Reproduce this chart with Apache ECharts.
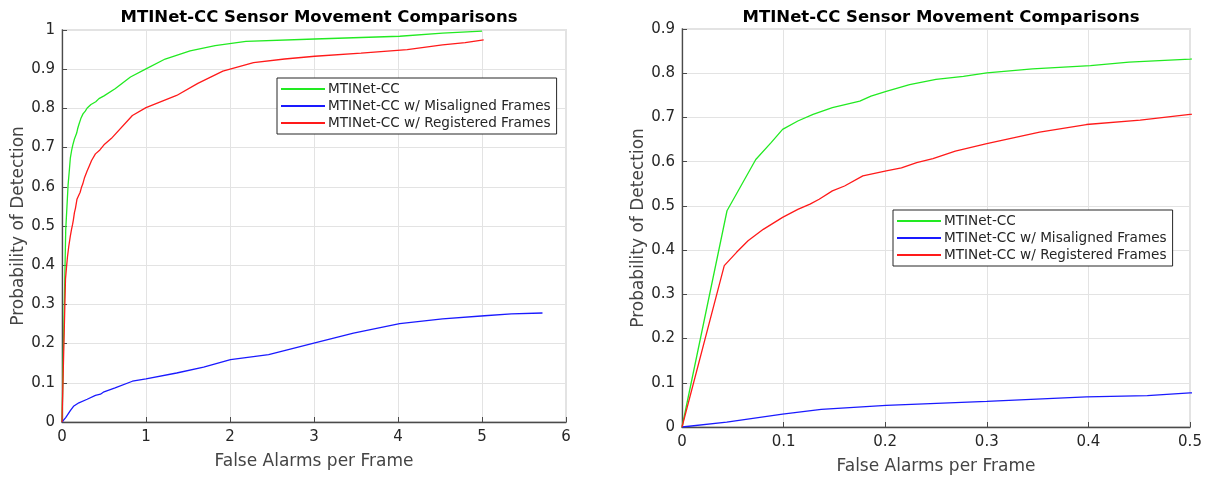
<!DOCTYPE html>
<html>
<head>
<meta charset="utf-8">
<title>MTINet-CC Sensor Movement Comparisons</title>
<script src="https://cdn.jsdelivr.net/npm/echarts@6/dist/echarts.min.js"></script>
<style>
  html, body { margin: 0; padding: 0; background: #ffffff; }
  #chart { width: 1213px; height: 480px; }
</style>
</head>
<body>
<div id="chart"></div>
<script>
// Series names
const nameBase = 'MTINet-CC';
const nameMisaligned = 'MTINet-CC w/ Misaligned Frames';
const nameRegistered = 'MTINet-CC w/ Registered Frames';

// MTINet-CC: false alarms per frame vs probability of detection
const greenFa = [0, 0.0443, 0.0726, 0.0877, 0.099, 0.114, 0.129, 0.148, 0.175, 0.186, 0.201, 0.224, 0.25, 0.277, 0.30, 0.345, 0.402, 0.44, 0.5, 0.632, 0.815, 1.0, 1.228, 1.525, 1.823, 2.19, 3.01, 4.02, 4.53, 5.0];
const greenPd = [0, 0.489, 0.605, 0.643, 0.673, 0.692, 0.707, 0.722, 0.737, 0.748, 0.759, 0.774, 0.786, 0.793, 0.801, 0.810, 0.817, 0.825, 0.832, 0.850, 0.880, 0.901, 0.926, 0.947, 0.960, 0.971, 0.977, 0.984, 0.992, 0.997];

// MTINet-CC w/ Misaligned Frames
const blueFa = [0, 0.044, 0.099, 0.137, 0.201, 0.300, 0.398, 0.458, 0.5, 0.632, 0.838, 1.0, 1.365, 1.686, 2.006, 2.46, 3.01, 3.47, 4.02, 4.53, 5.03, 5.35, 5.72];
const bluePd = [0, 0.011, 0.029, 0.040, 0.049, 0.058, 0.068, 0.071, 0.077, 0.087, 0.104, 0.110, 0.125, 0.140, 0.159, 0.172, 0.202, 0.227, 0.251, 0.263, 0.271, 0.276, 0.278];

// MTINet-CC w/ Registered Frames
const redFa = [0, 0.0416, 0.0537, 0.065, 0.080, 0.099, 0.114, 0.126, 0.135, 0.148, 0.160, 0.178, 0.201, 0.216, 0.231, 0.247, 0.269, 0.300, 0.326, 0.352, 0.398, 0.451, 0.5, 0.586, 0.838, 1.0, 1.365, 1.617, 1.915, 2.28, 2.65, 3.01, 3.56, 4.11, 4.53, 4.80, 5.02];
const redPd = [0, 0.365, 0.395, 0.421, 0.447, 0.474, 0.492, 0.504, 0.515, 0.534, 0.545, 0.568, 0.579, 0.586, 0.598, 0.607, 0.624, 0.641, 0.654, 0.667, 0.684, 0.694, 0.707, 0.723, 0.782, 0.802, 0.833, 0.864, 0.895, 0.917, 0.926, 0.933, 0.941, 0.950, 0.962, 0.968, 0.975];

// Axis ranges for the full view and the zoomed view
const fullX = { min: 0, max: 6, interval: 1 };
const fullY = { min: 0, max: 1, interval: 0.1 };
const zoomX = { min: 0, max: 0.5, interval: 0.1 };
const zoomY = { min: 0, max: 0.9, interval: 0.1 };

const titleText = 'MTINet-CC Sensor Movement Comparisons';
const xName = 'False Alarms per Frame';
const yName = 'Probability of Detection';

const zip = (xs, ys) => xs.map((x, i) => [x, ys[i]]);

const FONT = 'DejaVu Sans';
const TEXT = '#262626';
const AXIS = '#4a4a4a';
const GRID = '#e3e3e3';

function xAxisFor(range, gridIndex) {
  return {
    type: 'value', gridIndex,
    min: range.min, max: range.max, interval: range.interval,
    name: xName, nameLocation: 'middle', nameGap: 31,
    nameTextStyle: { fontFamily: FONT, fontSize: 17, color: '#444' },
    axisLine: { show: true, lineStyle: { color: AXIS, width: 1.3 } },
    axisTick: { show: true, inside: true, length: 5, lineStyle: { color: AXIS } },
    axisLabel: { fontFamily: FONT, fontSize: 15, color: TEXT, margin: 8 },
    splitLine: { show: true, lineStyle: { color: GRID, width: 1 } }
  };
}

function yAxisFor(range, gridIndex, gap) {
  return {
    type: 'value', gridIndex,
    min: range.min, max: range.max, interval: range.interval,
    name: yName, nameLocation: 'middle', nameGap: gap,
    nameTextStyle: { fontFamily: FONT, fontSize: 17, color: '#444' },
    axisLine: { show: true, lineStyle: { color: AXIS, width: 1.3 } },
    axisTick: { show: true, inside: true, length: 5, lineStyle: { color: AXIS } },
    axisLabel: { fontFamily: FONT, fontSize: 15, color: TEXT, margin: 7 },
    splitLine: { show: true, lineStyle: { color: GRID, width: 1 } }
  };
}

function legendAt(left, top) {
  return {
    orient: 'vertical', left, top,
    data: [nameBase, nameMisaligned, nameRegistered],
    icon: 'rect', itemWidth: 44, itemHeight: 2, itemGap: 3,
    padding: [4, 6, 4, 4],
    borderColor: '#262626', borderWidth: 1, backgroundColor: '#ffffff',
    textStyle: { fontFamily: FONT, fontSize: 13.6, color: TEXT, padding: [0, 0, 0, -2] },
    selectedMode: false
  };
}

function lineSeries(name, data, color, idx) {
  return {
    name, type: 'line', data, xAxisIndex: idx, yAxisIndex: idx,
    showSymbol: false, symbol: 'none', clip: true, animation: false,
    lineStyle: { color, width: 1.3 }, itemStyle: { color }
  };
}

const chart = echarts.init(document.getElementById('chart'), null, { renderer: 'canvas' });

const titleStyle = { fontFamily: FONT, fontSize: 16.5, fontWeight: 'bold', color: '#000' };

chart.setOption({
  backgroundColor: '#ffffff',
  animation: false,
  title: [
    { text: titleText, left: 314, top: 4, textAlign: 'center', textStyle: titleStyle },
    { text: titleText, left: 936, top: 4, textAlign: 'center', textStyle: titleStyle }
  ],
  legend: [legendAt(277, 78), legendAt(893, 210)],
  grid: [
    { left: 62, top: 30, width: 504, height: 392, show: true, borderColor: GRID, borderWidth: 2, containLabel: false },
    { left: 682, top: 29, width: 508, height: 399, show: true, borderColor: GRID, borderWidth: 2, containLabel: false }
  ],
  xAxis: [xAxisFor(fullX, 0), xAxisFor(zoomX, 1)],
  yAxis: [yAxisFor(fullY, 0, 33), yAxisFor(zoomY, 1, 34)],
  series: [
    lineSeries(nameBase, zip(greenFa, greenPd), '#22ea22', 0),
    lineSeries(nameMisaligned, zip(blueFa, bluePd), '#1a1aff', 0),
    lineSeries(nameRegistered, zip(redFa, redPd), '#ff1a1a', 0),
    lineSeries(nameBase, zip(greenFa, greenPd), '#22ea22', 1),
    lineSeries(nameMisaligned, zip(blueFa, bluePd), '#1a1aff', 1),
    lineSeries(nameRegistered, zip(redFa, redPd), '#ff1a1a', 1)
  ]
});
</script>
</body>
</html>
